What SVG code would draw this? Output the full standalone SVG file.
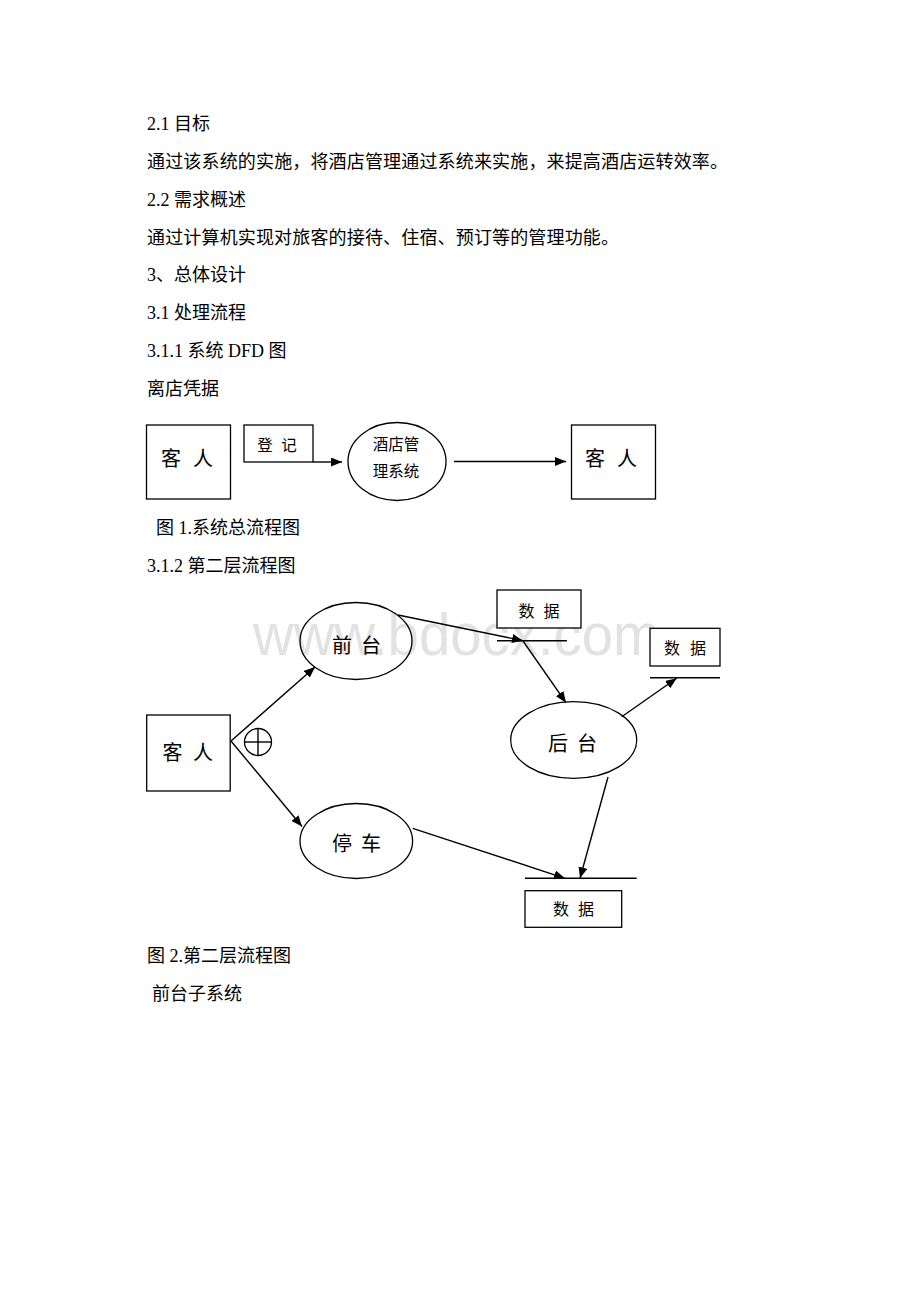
<svg xmlns="http://www.w3.org/2000/svg" width="920" height="1302" viewBox="0 0 920 1302">
<style>
.body{font-family:"Liberation Serif","Noto Sans CJK SC",serif;font-size:18px;fill:#000}
.lbl{font-family:"Noto Sans CJK SC","Liberation Serif",serif;fill:#000;text-anchor:middle}
.big{font-size:20px}
.mid{font-size:15.5px}
.sm{font-size:16px}
.box{fill:#fff;stroke:#000;stroke-width:1.3}
.ell{fill:none;stroke:#000;stroke-width:1.3}
.ln{fill:none;stroke:#000;stroke-width:1.4}
.wm{font-family:"Liberation Sans",Arial,sans-serif;font-size:60px;fill:#e2e2e2}
</style>
<defs>
<marker id="ah" markerUnits="userSpaceOnUse" markerWidth="12" markerHeight="10" refX="11" refY="4.5" orient="auto">
<path d="M0,0 L11,4.5 L0,9 Z" fill="#000"/>
</marker>
</defs>
<rect x="0" y="0" width="920" height="1302" fill="#fff"/>

<g id="text-body">
<text class="body" x="147" y="130">2.1 目标</text>
<text class="body" x="147" y="168" textLength="581" lengthAdjust="spacing">通过该系统的实施，将酒店管理通过系统来实施，来提高酒店运转效率。</text>
<text class="body" x="147" y="206">2.2 需求概述</text>
<text class="body" x="147" y="244" textLength="472" lengthAdjust="spacing">通过计算机实现对旅客的接待、住宿、预订等的管理功能。</text>
<text class="body" x="147" y="281">3、总体设计</text>
<text class="body" x="147" y="319">3.1 处理流程</text>
<text class="body" x="147" y="357">3.1.1 系统 DFD 图</text>
<text class="body" x="147" y="395">离店凭据</text>
<text class="body" x="156" y="534">图 1.系统总流程图</text>
<text class="body" x="147" y="572">3.1.2 第二层流程图</text>
<text class="body" x="147" y="962">图 2.第二层流程图</text>
<text class="body" x="152" y="1000">前台子系统</text>
</g>

<text id="watermark" class="wm" x="253" y="655" textLength="407" lengthAdjust="spacingAndGlyphs">www.bdocx.com</text>

<!-- Diagram 1 -->
<g id="d1-guest-in">
<rect class="box" x="146.5" y="425" width="84" height="74"/>
<text class="lbl big" x="171 186 203" y="466">客 人</text>
</g>
<g id="d1-register">
<rect class="box" x="244" y="425" width="69" height="37"/>
<text class="lbl mid" x="265 277 289" y="450.5">登 记</text>
</g>
<g id="d1-system">
<ellipse class="ell" cx="397" cy="461.5" rx="49" ry="39"/>
<text class="lbl mid" x="396" y="449.5">酒店管</text>
<text class="lbl mid" x="396" y="476.5">理系统</text>
</g>
<g id="d1-guest-out">
<rect class="box" x="571.5" y="425" width="84" height="74"/>
<text class="lbl big" x="595 610 627" y="466">客 人</text>
</g>

<!-- Diagram 2 -->
<g id="d2-guest">
<rect class="box" x="146.7" y="715" width="83.5" height="76"/>
<text class="lbl big" x="172.5 187 203" y="759.5">客 人</text>
</g>
<g id="d2-xor">
<circle class="ell" cx="258" cy="742" r="13.5"/>
<line class="ln" x1="244.5" y1="742" x2="271.5" y2="742" stroke-width="1.1"/>
<line class="ln" x1="258" y1="728.5" x2="258" y2="755.5" stroke-width="1.1"/>
</g>
<g id="d2-front">
<ellipse class="ell" cx="356" cy="641" rx="56" ry="38.5"/>
<text class="lbl big" x="342 356 371" y="652.5">前 台</text>
</g>
<g id="d2-back">
<ellipse class="ell" cx="573.7" cy="740" rx="63" ry="38.3"/>
<text class="lbl big" x="558 572 587" y="750.5">后 台</text>
</g>
<g id="d2-parking">
<ellipse class="ell" cx="356.3" cy="841" rx="56.3" ry="37.5"/>
<text class="lbl big" x="342 356 371" y="850.5">停 车</text>
</g>
<g id="d2-data1">
<rect class="box" x="497" y="590" width="84" height="38"/>
<text class="lbl sm" x="526.5 539 551.5" y="616.8">数 据</text>
<line class="ln" x1="497" y1="640.7" x2="567" y2="640.7"/>
</g>
<g id="d2-data2">
<rect class="box" x="650" y="628.3" width="70" height="37.7"/>
<text class="lbl sm" x="672 685 698" y="654.4">数 据</text>
<line class="ln" x1="650" y1="677.7" x2="720" y2="677.7"/>
</g>
<g id="d2-data3">
<line class="ln" x1="525" y1="878.3" x2="636.7" y2="878.3"/>
<rect class="box" x="525" y="890.7" width="96.7" height="36.6"/>
<text class="lbl sm" x="561 573.5 586" y="915.4">数 据</text>
</g>

<g id="connectors">
<line class="ln" x1="313" y1="462" x2="342" y2="462" marker-end="url(#ah)"/>
<line class="ln" x1="454" y1="461.5" x2="566" y2="461.5" marker-end="url(#ah)"/>
<line class="ln" x1="231" y1="741" x2="315" y2="667" marker-end="url(#ah)"/>
<line class="ln" x1="231" y1="741" x2="302" y2="826.5" marker-end="url(#ah)"/>
<line class="ln" x1="398" y1="615" x2="523" y2="640.7" marker-end="url(#ah)"/>
<line class="ln" x1="523" y1="641" x2="566" y2="702.7" marker-end="url(#ah)"/>
<line class="ln" x1="621.7" y1="716.7" x2="676.7" y2="678.3" marker-end="url(#ah)"/>
<line class="ln" x1="412.7" y1="828.3" x2="565" y2="878.3" marker-end="url(#ah)"/>
<line class="ln" x1="608" y1="777" x2="580" y2="878.3" marker-end="url(#ah)"/>
</g>
</svg>
